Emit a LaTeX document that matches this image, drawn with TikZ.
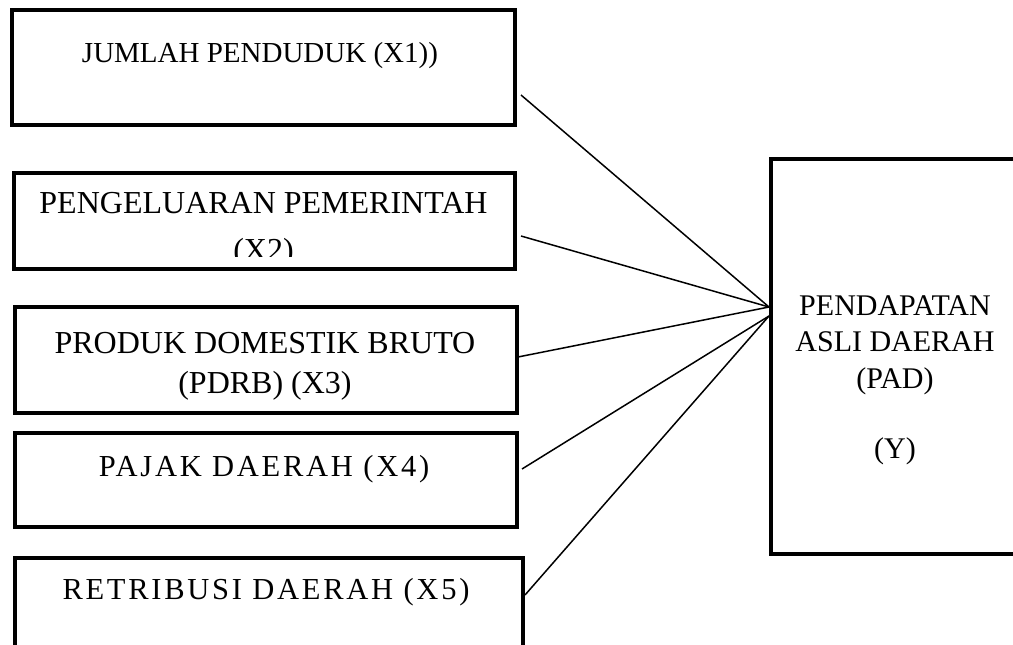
\documentclass[tikz,border=0pt]{standalone}
\usepackage{fontspec}
\setmainfont{Liberation Serif}
\newfontfamily\spaced[LetterSpace=9]{Liberation Serif}
\begin{document}
\begin{tikzpicture}[x=1pt,y=-1pt,
  box/.style={draw=black,line width=4pt,rectangle,inner sep=0pt,fill=none},
  lbl/.style={anchor=base,inner sep=0pt,font=\fontsize{32}{38}\selectfont},
  smlbl/.style={anchor=base,inner sep=0pt,font=\fontsize{29}{35}\selectfont},
  slbl/.style={anchor=base,inner sep=0pt,font=\fontsize{30.5}{37}\spaced},
  ylbl/.style={anchor=base,inner sep=0pt,font=\fontsize{30}{36}\selectfont},
  conn/.style={draw=black,line width=1.5pt}]
\useasboundingbox (0,0) rectangle (1013,645);
\clip (0,0) rectangle (1013,645);
\fill[white] (0,0) rectangle (1013,645);
% boxes
\node[box,minimum width=503pt,minimum height=115pt] (b1) at (263.5,67.5) {};
\node[box,minimum width=501pt,minimum height=96pt] (b2) at (264.5,221) {};
\node[box,minimum width=502pt,minimum height=106pt] (b3) at (266,360) {};
\node[box,minimum width=502pt,minimum height=94pt] (b4) at (266,480) {};
\node[box,minimum width=508pt,minimum height=123pt] (b5) at (269,619.5) {};
\node[box,minimum width=269pt,minimum height=395pt] (by) at (905.5,356.5) {};
% texts
\node[smlbl] (t1) at (260,62) {JUMLAH PENDUDUK (X1))};
\node[lbl] (t2a) at (263.5,213.5) {PENGELUARAN PEMERINTAH};
\begin{scope}
\clip (20,225) rectangle (510,256);
\node[lbl] (t2b) at (263.5,260) {(X2)};
\end{scope}
\node[lbl] (t3a) at (265,353) {PRODUK DOMESTIK BRUTO};
\node[lbl] (t3b) at (265,393) {(PDRB) (X3)};
\node[slbl] (t4) at (264,476) {PAJAK DAERAH (X4)};
\node[slbl] (t5) at (266,599) {RETRIBUSI DAERAH (X5)};
\node[ylbl] (ty1) at (895,315) {PENDAPATAN};
\node[ylbl] (ty2) at (895,351) {ASLI DAERAH};
\node[ylbl] (ty3) at (895,388) {(PAD)};
\node[ylbl] (ty4) at (895,458) {(Y)};
% connector ends
\coordinate (s1) at (521,95);
\coordinate (s2) at (521,236);
\coordinate (s3) at (518,357);
\coordinate (s4) at (522,469);
\coordinate (s5) at (525,595);
\coordinate (e1) at (769,307);
\coordinate (e2) at (769,316);
\draw[conn] (s1) -- (e1);
\draw[conn] (s2) -- (e1);
\draw[conn] (s3) -- (e1);
\draw[conn] (s4) -- (e2);
\draw[conn] (s5) -- (e2);
\end{tikzpicture}
\end{document}
